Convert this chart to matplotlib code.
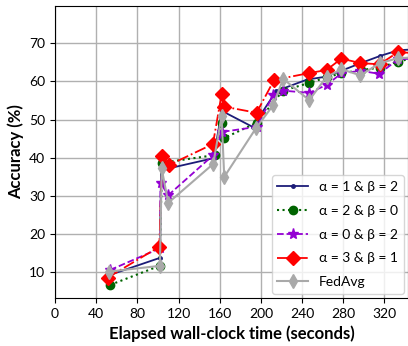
import matplotlib
matplotlib.use("Agg")
import matplotlib.pyplot as plt

plt.rcParams['font.family'] = ['Lato', 'DejaVu Sans']

# alpha=1 & beta=2
x_a1b2 = [53, 102, 103, 110, 154, 162, 192, 215, 245, 262, 280, 298, 316, 334, 350]
y_a1b2 = [9.3, 13.8, 38.0, 37.2, 39.9, 52.3, 48.1, 57.5, 60.5, 61.2, 63.0, 64.9, 66.7, 68.2, 68.4]

# alpha=2 & beta=0
x_a2b0 = [53.5, 101.5, 104, 155, 162, 164.5, 196, 221.5, 247, 264, 278, 297, 315.5, 333, 350]
y_a2b0 = [6.7, 11.7, 38.7, 40.7, 49.0, 45.2, 49.2, 57.6, 59.6, 61.1, 62.1, 63.0, 63.6, 65.2, 66.2]

# alpha=0 & beta=2
x_a0b2 = [53.4, 102, 102.5, 110, 153.7, 162.5, 195.8, 212, 221.7, 247, 263.8, 278.3, 296.8, 315, 333.3, 350]
y_a0b2 = [10.6, 16.3, 33.4, 30.2, 40.7, 46.8, 48.1, 56.4, 57.6, 57.0, 59.1, 62.1, 62.8, 62.0, 65.8, 66.0]

# alpha=3 & beta=1
x_a3b1 = [51, 101.3, 104.2, 110.7, 153.4, 161.8, 164.4, 195.8, 212.9, 247, 263.8, 278.3, 296.8, 315.5, 333.3, 350]
y_a3b1 = [8.6, 16.7, 40.5, 38.1, 43.6, 56.6, 53.4, 51.8, 60.4, 62.2, 63.0, 66.0, 64.8, 64.5, 67.7, 67.4]

# FedAvg
x_fedavg = [52.4, 101.9, 103.6, 110, 153.7, 161.8, 164.4, 195.1, 212, 221.7, 247, 263.8, 278.3, 296.8, 315.5, 333.3, 350]
y_fedavg = [10.2, 11.7, 37.2, 28.2, 38.4, 50.9, 35.0, 47.7, 53.8, 60.7, 55.1, 61.2, 63.2, 61.6, 64.8, 66.1, 66.3]

x_ticks = [0, 40, 80, 120, 160, 200, 240, 280, 320]
y_ticks = [10, 20, 30, 40, 50, 60, 70]

fig = plt.figure(figsize=(4.08, 3.46), dpi=100)
ax = fig.add_axes([0.135, 0.139, 0.865, 0.844])

ax.plot(x_a1b2, y_a1b2, color='#1c1c78', linestyle='-', marker='.', markersize=5,
        linewidth=1.3, label='α = 1 & β = 2', zorder=3)
ax.plot(x_a2b0, y_a2b0, color='darkgreen', linestyle=':', marker='o', markersize=6,
        linewidth=1.5, label='α = 2 & β = 0', zorder=3)
ax.plot(x_a0b2, y_a0b2, color='darkviolet', linestyle='--', marker='*', markersize=8,
        linewidth=1.3, label='α = 0 & β = 2', zorder=3)
ax.plot(x_a3b1, y_a3b1, color='red', linestyle='-.', marker='D', markersize=7,
        linewidth=1.3, label='α = 3 & β = 1', zorder=3)
ax.plot(x_fedavg, y_fedavg, color='darkgray', linestyle='-', marker='d', markersize=7,
        linewidth=1.5, label='FedAvg', zorder=3)

ax.set_xlim(0, 343)
ax.set_ylim(3.3, 79.8)
ax.set_xticks(x_ticks)
ax.set_yticks(y_ticks)
ax.tick_params(labelsize=10)
ax.grid(True, color='#b0b0b0', linewidth=1)
ax.set_axisbelow(True)
ax.set_xlabel('Elapsed wall-clock time (seconds)', fontsize=12, fontweight='bold')
ax.set_ylabel('Accuracy (%)', fontsize=12, fontweight='bold')
ax.legend(loc='lower right', fontsize=10, borderaxespad=0.3, handlelength=2.2,
          labelspacing=0.85)

fig.savefig('out.png', dpi=100)
